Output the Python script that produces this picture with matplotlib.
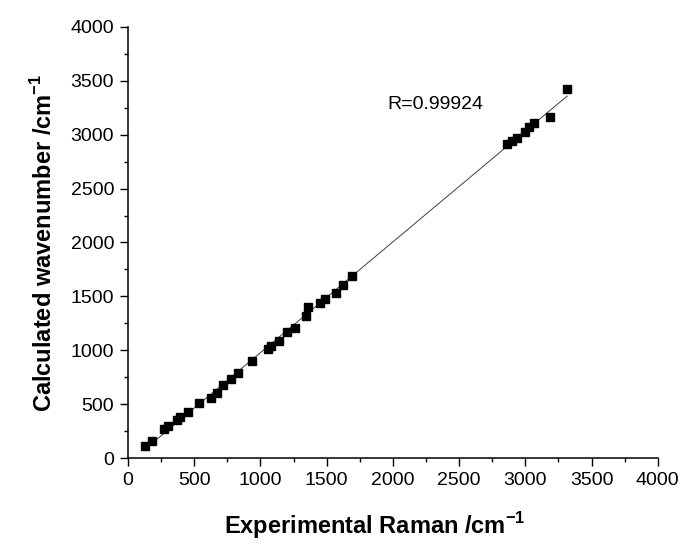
import numpy as np
import matplotlib
matplotlib.use("Agg")
import matplotlib.pyplot as plt
from matplotlib.ticker import MultipleLocator

plt.rcParams['font.family'] = ['Liberation Sans', 'DejaVu Sans']
plt.rcParams['mathtext.fontset'] = 'custom'
plt.rcParams['mathtext.rm'] = 'Liberation Sans'
plt.rcParams['mathtext.bf'] = 'Liberation Sans:bold'

# experimental Raman bands vs calculated wavenumbers (cm-1)
exp_raman = [131, 179, 274, 304, 368, 392, 455, 538, 626, 674, 717, 777, 828,
             934, 1059, 1077, 1142, 1202, 1260, 1341, 1361, 1449, 1487, 1570,
             1625, 1691, 2863, 2896, 2934, 2996, 3029, 3066, 3185, 3316]
calc_wn = [111, 158, 266, 297, 353, 378, 430, 508, 560, 600, 677, 733, 786,
           900, 1009, 1039, 1086, 1172, 1209, 1318, 1404, 1441, 1473, 1534,
           1603, 1689, 2914, 2945, 2967, 3028, 3069, 3106, 3168, 3425]
r_label = "R=0.99924"

x = np.array(exp_raman)
y = np.array(calc_wn)
slope, icpt = np.polyfit(x, y, 1)
xfit = np.array([x.min(), x.max()])

fig = plt.figure(figsize=(6.88, 5.45), dpi=100)
ax = fig.add_axes([0.186, 0.1596, 0.770, 0.791])

ax.plot(xfit, slope * xfit + icpt, color='#404040', lw=0.7, zorder=1)
ax.plot(x, y, 's', color='black', ms=6.3, zorder=2)

ax.text(1960, 3280, r_label, fontsize=14, va='center', ha='left')

ax.set_xlim(0, 4000)
ax.set_ylim(0, 4000)
ax.xaxis.set_major_locator(MultipleLocator(500))
ax.xaxis.set_minor_locator(MultipleLocator(250))
ax.yaxis.set_major_locator(MultipleLocator(500))
ax.yaxis.set_minor_locator(MultipleLocator(250))
ax.tick_params(which='major', direction='out', length=6, width=1, labelsize=14, color='black', pad=4)
ax.tick_params(which='minor', direction='out', length=3, width=1, color='black')

for s in ['top', 'right']:
    ax.spines[s].set_visible(False)
for s in ['left', 'bottom']:
    ax.spines[s].set_linewidth(1.1)

ax.set_xlabel(r'Experimental Raman /cm$^{\mathbf{-1}}$', fontsize=17, fontweight='bold')
ax.set_ylabel(r'Calculated wavenumber /cm$^{\mathbf{-1}}$', fontsize=17, fontweight='bold', labelpad=10)
ax.xaxis.set_label_coords(0.465, -0.12)

fig.savefig('out.png', dpi=100)
